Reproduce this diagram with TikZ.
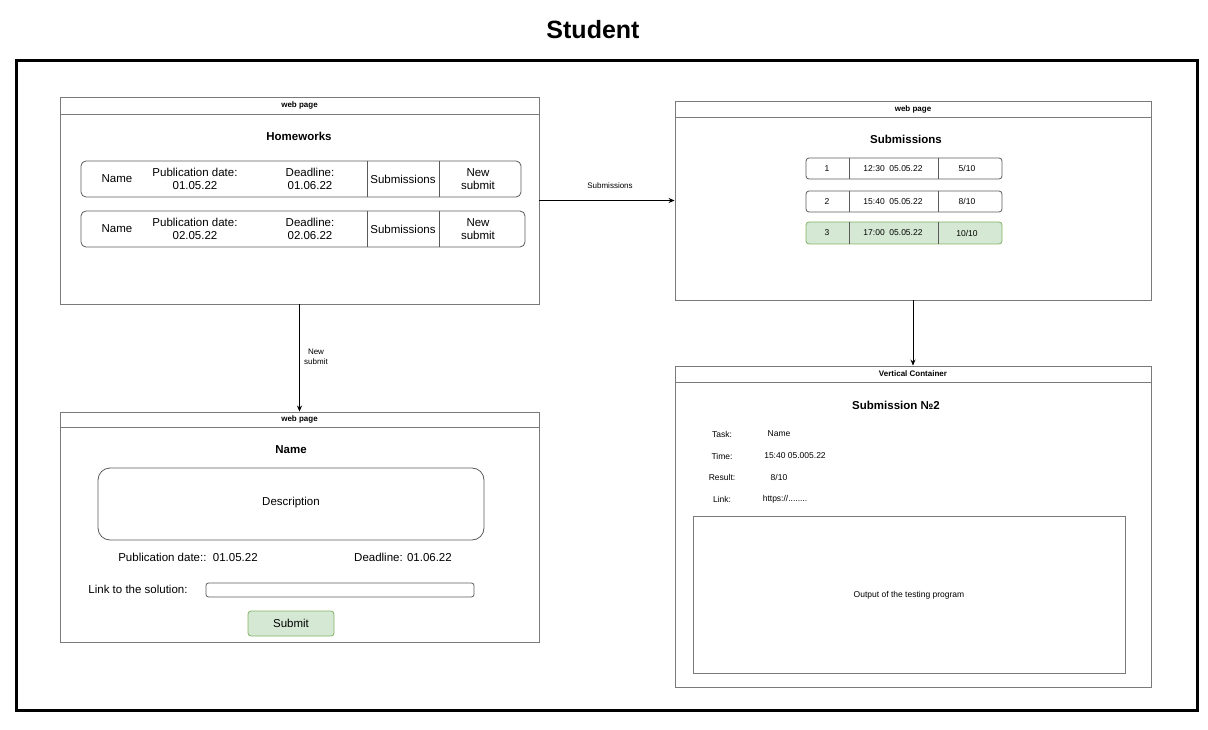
\documentclass[tikz,border=0pt]{standalone}
\usepackage{fontspec}
\setmainfont{Liberation Sans}
\usetikzlibrary{arrows.meta}
\definecolor{pageline}{HTML}{7A7A7A}
\definecolor{rowline}{HTML}{5A5A5A}
\definecolor{gfill}{HTML}{D5E8D4}
\definecolor{gline}{HTML}{82B366}
\newcommand{\fsz}[1]{\fontsize{#1}{#1}\selectfont}
\tikzset{
  page/.style={draw=pageline, line width=0.9pt, rectangle, inner sep=0pt},
  hdr/.style={font=\fsz{8}\bfseries, inner sep=0pt},
  ttl/.style={font=\fsz{11.5}\bfseries, inner sep=0pt},
  rowbox/.style={draw=rowline, line width=0.8pt, rounded corners=5pt},
  cell/.style={font=\fontsize{11.5}{13}\selectfont, align=center, inner sep=0pt},
  scell/.style={font=\fsz{8.5}, inner sep=0pt},
  lbl/.style={font=\fsz{8.5}, inner sep=0pt},
  body/.style={font=\fsz{11.5}, inner sep=0pt},
  conn/.style={draw=black, line width=0.7pt, -{Stealth[length=6pt,width=5pt]}},
  clbl/.style={font=\fontsize{8}{9.5}\selectfont, align=center, inner sep=0pt}
}
\begin{document}
\begin{tikzpicture}[x=1pt,y=-1pt]
\useasboundingbox (0,0) rectangle (1208,730);
% title and frame
\node[font=\fsz{25}\bfseries, inner sep=0pt] (title) at (593,30) {Student};
\draw[line width=3pt] (16,61) rectangle (1197,710);

% ---------- page 1: Homeworks ----------
\node[page, minimum width=479pt, minimum height=207pt] (hw) at (299.5,200.5) {};
\draw[pageline, line width=0.9pt] (60,114) -- (539,114);
\node[hdr] (hwh) at (299.5,105.5) {web page};
\node[ttl] (hwt) at (299,136) {Homeworks};
% row 1
\draw[rowbox] (81,161) rectangle (521,197);
\draw[rowline, line width=0.8pt] (367,161) -- (367,197) (439,161) -- (439,197);
\node[cell] (r1a) at (117,179) {Name};
\node[cell] (r1b) at (195,179) {Publication date:\\01.05.22};
\node[cell] (r1c) at (310,179) {Deadline:\\01.06.22};
\node[cell] (r1d) at (403,179) {Submissions};
\node[cell] (r1e) at (478,179) {New\\submit};
% row 2
\draw[rowbox] (81,211) rectangle (525,247);
\draw[rowline, line width=0.8pt] (367,211) -- (367,247) (439,211) -- (439,247);
\node[cell] (r2a) at (117,229) {Name};
\node[cell] (r2b) at (195,229) {Publication date:\\02.05.22};
\node[cell] (r2c) at (310,229) {Deadline:\\02.06.22};
\node[cell] (r2d) at (403,229) {Submissions};
\node[cell] (r2e) at (478,229) {New\\submit};

% ---------- page 2: Submissions ----------
\node[page, minimum width=476pt, minimum height=199pt] (subs) at (913,200.5) {};
\draw[pageline, line width=0.9pt] (675,117) -- (1151,117);
\node[hdr] (subh) at (913,109) {web page};
\node[ttl] (subt) at (906,139) {Submissions};
\draw[rowbox, rounded corners=3pt] (806,158) rectangle (1002,179);
\draw[rowline, line width=0.8pt] (849,158) -- (849,179) (938,158) -- (938,179);
\node[scell] (s1a) at (827,168.5) {1};
\node[scell] (s1b) at (893,168.5) {12:30\ \ 05.05.22};
\node[scell] (s1c) at (967,168.5) {5/10};
\draw[rowbox, rounded corners=3pt] (806,191) rectangle (1002,212);
\draw[rowline, line width=0.8pt] (849,191) -- (849,212) (938,191) -- (938,212);
\node[scell] (s2a) at (827,201.5) {2};
\node[scell] (s2b) at (893,201.5) {15:40\ \ 05.05.22};
\node[scell] (s2c) at (967,201.5) {8/10};
\draw[rowbox, rounded corners=3pt, fill=gfill, draw=gline] (806,222) rectangle (1002,244);
\draw[rowline, line width=0.8pt] (849,222) -- (849,244) (938,222) -- (938,244);
\node[scell] (s3a) at (827,233) {3};
\node[scell] (s3b) at (893,233) {17:00\ \ 05.05.22};
\node[scell] (s3c) at (967,233) {10/10};

% ---------- page 3: homework detail ----------
\node[page, minimum width=479pt, minimum height=230pt] (det) at (299.5,527) {};
\draw[pageline, line width=0.9pt] (60,427) -- (539,427);
\node[hdr] (deth) at (299.5,419.5) {web page};
\node[ttl] (dett) at (291,450) {Name};
\draw[rowbox, rounded corners=12pt] (98,468) rectangle (484,540);
\node[body] (desc) at (291,503) {Description};
\node[body] (pub) at (188,557) {Publication date::\ \ 01.05.22};
\node[body] (dl) at (403,557) {Deadline: 01.06.22};
\node[body] (link) at (138,589) {Link to the solution:};
\draw[rowbox, rounded corners=2.5pt] (206,583) rectangle (474,597);
\node[draw=gline, fill=gfill, line width=0.8pt, rounded corners=3pt, minimum width=86pt, minimum height=25pt, inner sep=0pt, font=\fsz{11.5}] (submit) at (291,623.5) {Submit};

% ---------- page 4: vertical container ----------
\node[page, minimum width=476pt, minimum height=321pt] (cont) at (913,526.5) {};
\draw[pageline, line width=0.9pt] (675,382) -- (1151,382);
\node[hdr] (conth) at (913,374) {Vertical Container};
\node[ttl] (contt) at (896,405) {Submission №2};
\node[lbl] (k1) at (722,434) {Task:};
\node[lbl] (v1) at (779,434) {Name};
\node[lbl] (k2) at (722,456) {Time:};
\node[lbl] (v2) at (795,456) {15:40 05.005.22};
\node[lbl] (k3) at (722,477) {Result:};
\node[lbl] (v3) at (779,477) {8/10};
\node[lbl] (k4) at (722,499) {Link:};
\node[lbl] (v4) at (785,499) {https://........};
\node[draw=pageline, line width=0.9pt, minimum width=432pt, minimum height=157pt, inner sep=0pt] (out) at (909,594.5) {};
\node[lbl] (outt) at (909,595) {Output of the testing program};

% ---------- connectors ----------
\draw[conn] (hw.east) -- (subs.west);
\node[clbl] (c1) at (610,186) {Submissions};
\draw[conn] (hw.south) -- (det.north);
\node[clbl] (c2) at (316,357) {New\\submit};
\draw[conn] (subs.south) -- (cont.north);
\end{tikzpicture}
\end{document}
